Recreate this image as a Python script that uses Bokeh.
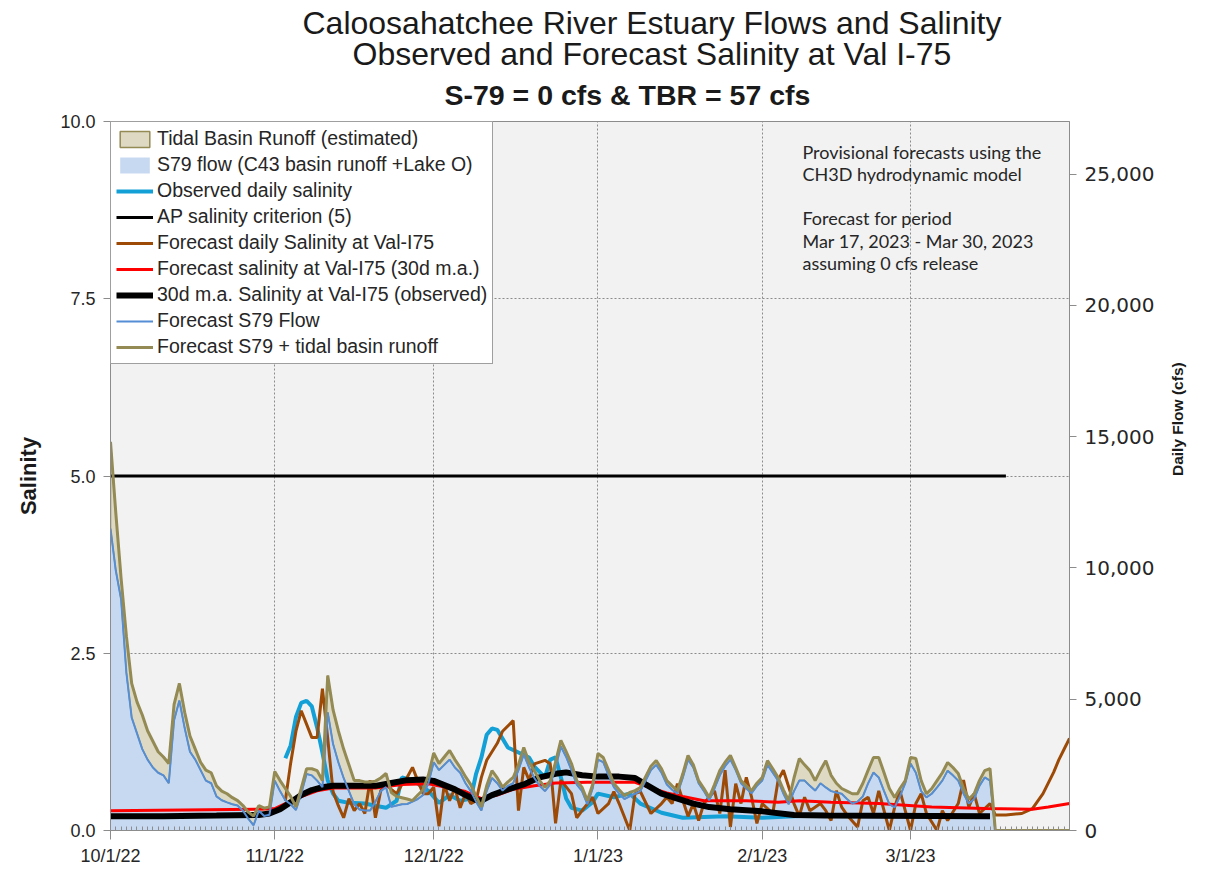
import math
from datetime import datetime, timedelta
import pandas as pd
from bokeh.plotting import figure
from bokeh.models import (Range1d, LinearAxis, FixedTicker, NumeralTickFormatter,
                          CustomJSTickFormatter, Label, Legend, LegendItem, Title)
from bokeh.embed import file_html
from bokeh.resources import INLINE

START = datetime(2022, 10, 1)

# ---------------- data ----------------
# flows (cfs), daily from 10/1/22; after 3/17/23 the forecast flow is 0
s79_cfs = [11500, 9900, 8800, 6000, 4300, 3700, 3100, 2700, 2400, 2200,
           2100, 1800, 4200, 4950, 3900, 3000, 2700, 2300, 1900, 1800,
           1300, 1150, 1070, 1000, 950, 750, 450, 200, 750, 550,
           600, 1900, 1500, 1150, 1000, 780, 1400, 2150, 2100, 1900,
           1650, 4500, 3300, 2600, 2000, 1500, 1000, 800, 760, 760,
           1100, 1500, 1650, 900, 950, 1000, 1010, 1100, 1200, 1350,
           1800, 2600, 2300, 2500, 2700, 2400, 2200, 1800, 1500, 1100,
           760, 1500, 2000, 1800, 1520, 1700, 1800, 2300, 2900, 2400,
           2000, 1700, 1500, 1750, 2400, 3200, 2800, 2300, 1750, 1500,
           1000, 1600, 2700, 2600, 2100, 1650, 1400, 1200, 1300, 1400,
           1500, 1900, 2300, 2500, 2200, 1750, 1550, 1400, 2000, 2700,
           2400, 1800, 1500, 1150, 1600, 2100, 2450, 2700, 2300, 1800,
           1600, 1420, 1700, 1900, 2500, 2200, 1900, 1400, 1000, 1500,
           1900, 1900, 1700, 1520, 1800, 1640, 1500, 1450, 1400, 1200,
           1030, 1100, 1300, 1800, 2210, 2020, 1500, 1000, 880, 1300,
           1800, 2550, 2200, 1500, 1260, 1400, 1640, 1900, 2280, 2100,
           1900, 1400, 1030, 1200, 1700, 2020, 1900, 0, 0]
s79_tbr_cfs = [14800, 12100, 9600, 7400, 5600, 4900, 4400, 3800, 3400, 3000,
               2800, 2550, 4800, 5600, 4500, 3600, 3100, 2600, 2300, 2200,
               1700, 1500, 1400, 1250, 1140, 950, 700, 550, 950, 850,
               900, 2250, 1900, 1600, 1300, 900, 1600, 2350, 2350, 2280,
               1900, 5900, 4600, 3800, 3100, 2500, 1900, 1900, 1850, 1850,
               1880, 2000, 2170, 1450, 1300, 1250, 1200, 1140, 1350, 1550,
               2100, 2950, 2550, 2800, 3050, 2700, 2400, 2050, 1750, 1300,
               900, 1700, 2280, 2000, 1650, 1850, 2020, 2500, 3160, 2600,
               2280, 1900, 1640, 1900, 2600, 3430, 3000, 2550, 1900, 1640,
               1140, 1750, 2930, 2780, 2300, 1790, 1550, 1330, 1450, 1520,
               1640, 2050, 2450, 2660, 2350, 1900, 1700, 1520, 2150, 2860,
               2500, 1900, 1600, 1260, 1750, 2280, 2600, 2860, 2400, 1900,
               1700, 1520, 1800, 2020, 2660, 2350, 2020, 1550, 1140, 2000,
               2740, 2500, 2280, 1900, 2300, 2660, 2100, 1800, 1600, 1500,
               1400, 1400, 1800, 2300, 2780, 2780, 2200, 1600, 1260, 1600,
               1900, 2780, 2740, 1900, 1400, 1600, 1900, 2200, 2590, 2400,
               2170, 1600, 1200, 1400, 1900, 2280, 2360, 0, 0]
flow_day = list(range(168)) + [181]

obs_sal_day = [33, 34, 35, 36, 37, 38, 39, 40, 41, 42, 43, 45, 48, 50, 52, 54, 55,
               57, 60, 62, 64, 66, 68, 69, 70, 71, 72, 73, 75, 77, 79, 80, 82, 83,
               84, 85, 86, 87, 89, 91, 92, 95, 98, 100, 104, 108, 116, 123, 129,
               135, 140]
obs_sal = [1.02, 1.2, 1.6, 1.8, 1.83, 1.75, 1.45, 1.1, 0.71, 0.52, 0.42, 0.39,
           0.38, 0.35, 0.32, 0.42, 0.75, 0.71, 0.56, 0.39, 0.5, 0.42, 0.45, 0.8,
           1.03, 1.35, 1.44, 1.42, 1.17, 1.1, 1.03, 0.9, 0.75, 1.0, 1.03, 0.75,
           0.45, 0.32, 0.28, 0.4, 0.52, 0.47, 0.52, 0.38, 0.25, 0.18, 0.2, 0.18,
           0.2, 0.22, 0.22]

fc_sal_day = [33, 34, 35, 36, 37, 38, 39, 40, 41, 42, 43, 44, 45, 46, 47, 48, 49,
              50, 51, 52, 53, 54, 55, 56, 57, 58, 59, 60, 61, 62, 63, 64, 65, 66,
              67, 68, 69, 70, 71, 73, 74, 76, 77, 78, 79, 80, 82, 83, 84, 85, 87,
              88, 89, 91, 92, 94, 95, 96, 98, 99, 100, 102, 104, 105, 106, 107,
              109, 110, 111, 112, 114, 115, 116, 117, 118, 119, 120, 121, 122, 123,
              125, 126, 127, 129, 130, 131, 132, 134, 135, 136, 137, 138, 139, 141,
              142, 143, 144, 145, 147, 148, 149, 151, 152, 153, 154, 156, 157, 158,
              160, 161, 162, 163, 164, 166, 167, 169, 172, 174, 176, 178, 179, 180,
              181]
fc_sal = [0.42, 0.95, 1.4, 1.69, 1.5, 1.31, 1.31, 2.0, 1.3, 0.55, 0.35, 0.18,
          0.45, 0.28, 0.38, 0.24, 0.71, 0.18, 0.56, 0.65, 0.58, 0.52, 0.65, 0.75,
          0.89, 0.7, 0.52, 0.52, 0.61, 0.06, 0.65, 0.42, 0.6, 0.32, 0.52, 0.38,
          0.42, 0.75, 0.99, 1.23, 1.4, 1.55, 0.28, 0.89, 0.71, 0.94, 0.99, 0.94,
          0.1, 0.71, 0.52, 0.18, 0.28, 0.47, 0.24, 0.38, 0.55, 0.38, 0.0, 0.52,
          0.55, 0.24, 0.38, 0.47, 0.38, 0.66, 0.2, 0.38, 0.14, 0.38, 0.56, 0.24,
          0.85, 0.05, 0.66, 0.38, 0.75, 0.47, 0.1, 0.38, 0.24, 0.71, 0.85, 0.38,
          0.2, 0.47, 0.28, 0.38, 0.28, 0.14, 0.56, 0.33, 0.22, 0.05, 0.42, 0.47,
          0.24, 0.56, 0.0, 0.33, 0.56, 0.0, 0.38, 0.52, 0.24, 0.0, 0.28, 0.14,
          0.38, 0.71, 0.33, 0.52, 0.24, 0.38, 0.22, 0.22, 0.24, 0.31, 0.52, 0.82,
          1.0, 1.15, 1.3]

fc_ma_day = [0, 28, 31, 33, 36, 39, 42, 50, 55, 60, 64, 67, 70, 73, 76, 80, 84,
             90, 99, 102, 105, 108, 112, 120, 126, 130, 136, 145, 155, 165, 174,
             177, 181]
fc_ma = [0.28, 0.3, 0.31, 0.38, 0.48, 0.56, 0.6, 0.6, 0.65, 0.66, 0.6, 0.55,
         0.45, 0.5, 0.58, 0.63, 0.67, 0.68, 0.68, 0.6, 0.53, 0.48, 0.42, 0.42,
         0.4, 0.42, 0.4, 0.38, 0.33, 0.31, 0.3, 0.33, 0.38]

obs_ma_day = [0, 10, 20, 28, 30, 32, 34, 36, 38, 40, 42, 46, 50, 53, 56, 59, 61,
              63, 65, 67, 69, 70, 72, 75, 78, 81, 84, 86, 89, 92, 96, 99, 101,
              104, 107, 110, 113, 117, 123, 129, 135, 166]
obs_ma = [0.2, 0.2, 0.21, 0.22, 0.24, 0.3, 0.4, 0.5, 0.57, 0.61, 0.63, 0.63,
          0.63, 0.67, 0.71, 0.72, 0.7, 0.64, 0.58, 0.5, 0.43, 0.42, 0.5, 0.58,
          0.65, 0.75, 0.8, 0.82, 0.78, 0.76, 0.76, 0.74, 0.65, 0.52, 0.45, 0.38,
          0.33, 0.3, 0.27, 0.22, 0.21, 0.2]

criterion_day = [0, 169]
criterion_sal = [5, 5]

month_ticks = ["2022-10-01", "2022-11-01", "2022-12-01", "2023-01-01",
               "2023-02-01", "2023-03-01"]
sal_ticks = [0, 2.5, 5, 7.5, 10]
flow_ticks = [0, 5000, 10000, 15000, 20000, 25000]


def dates(days):
    return [START + timedelta(days=d) for d in days]


def ms(ts):
    return pd.Timestamp(ts).value // 10**6


W, H = 1205, 875
FL, FT, FW, FH = 110, 121, 959, 709

p = figure(width=W, height=H, x_axis_type="datetime", output_backend="svg",
           toolbar_location=None,
           x_range=Range1d(START, START + timedelta(days=181)),
           y_range=Range1d(0, 10),
           min_border_left=FL, min_border_right=W - FL - FW,
           min_border_top=FT, min_border_bottom=H - FT - FH)
p.extra_y_ranges = {"flow": Range1d(0, 27000)}
p.background_fill_color = "#f2f2f2"
p.border_fill_color = "white"
p.outline_line_color = "#8c8c8c"
p.outline_line_width = 1

# grid
p.xgrid.grid_line_color = "#8c8c8c"
p.xgrid.grid_line_dash = "2 2"
p.ygrid.grid_line_color = "#8c8c8c"
p.ygrid.grid_line_dash = "2 2"

TICK_FONT = "Liberation Sans"

# x axis
xa = p.xaxis[0]
xa.ticker = FixedTicker(ticks=[ms(t) for t in month_ticks],
                        minor_ticks=[ms(START + timedelta(days=d)) for d in range(182)])
xa.formatter = CustomJSTickFormatter(code="""
const d = new Date(tick);
return (d.getUTCMonth()+1) + "/" + d.getUTCDate() + "/" + String(d.getUTCFullYear()).slice(2);
""")
xa.major_tick_in = 0
xa.major_tick_out = 9
xa.minor_tick_in = 4
xa.minor_tick_out = 0
xa.axis_line_color = "#8c8c8c"
xa.major_tick_line_color = "#8c8c8c"
xa.minor_tick_line_color = "#8c8c8c"
xa.major_label_text_font = TICK_FONT
xa.major_label_text_font_size = "18px"
xa.major_label_text_color = "#262626"
xa.major_label_standoff = 6

ya = p.yaxis[0]
ya.ticker = FixedTicker(ticks=sal_ticks)
ya.formatter = NumeralTickFormatter(format="0.0")
ya.major_tick_in = 0
ya.major_tick_out = 7
ya.minor_tick_line_color = None
ya.axis_line_color = "#8c8c8c"
ya.major_tick_line_color = "#8c8c8c"
ya.major_label_text_font = TICK_FONT
ya.major_label_text_font_size = "18px"
ya.major_label_text_color = "#262626"
ya.major_label_standoff = 8
ya.axis_label = "Salinity"
ya.axis_label_text_font = "Liberation Sans"
ya.axis_label_text_font_size = "22px"
ya.axis_label_text_font_style = "bold"
ya.axis_label_text_color = "#1a1a1a"
ya.axis_label_standoff = 16

ra = LinearAxis(y_range_name="flow", ticker=FixedTicker(ticks=flow_ticks),
                formatter=NumeralTickFormatter(format="0,0"))
ra.major_tick_in = 0
ra.major_tick_out = 7
ra.minor_tick_line_color = None
ra.axis_line_color = "#8c8c8c"
ra.major_tick_line_color = "#8c8c8c"
ra.major_label_text_font = "DejaVu Sans"
ra.major_label_text_font_size = "20px"
ra.major_label_text_color = "#262626"
ra.major_label_standoff = 8
ra.axis_label = "Daily Flow (cfs)"
ra.axis_label_text_font = "Liberation Sans"
ra.axis_label_text_font_size = "15.5px"
ra.axis_label_text_font_style = "bold"
ra.axis_label_text_color = "#1a1a1a"
ra.axis_label_standoff = 20
if "axis_label_orientation" in ra.properties():
    ra.axis_label_orientation = math.pi / 2  # read bottom-to-top like the reference
p.add_layout(ra, "right")

# ---------------- areas ----------------
fd = dates(flow_day)
blue_area = p.varea(x=fd, y1=[0] * len(fd), y2=s79_cfs, y_range_name="flow",
                    fill_color="#c6d9f1")
tan_area = p.patch(x=fd + fd[::-1], y=s79_tbr_cfs + s79_cfs[::-1], y_range_name="flow",
                   fill_color="#ddd9c3", line_color="#948a54", line_width=1.5)

# ---------------- lines ----------------
obs_line = p.line(dates(obs_sal_day), obs_sal, line_color="#12a0d7", line_width=4)
crit_line = p.line(dates(criterion_day), criterion_sal, line_color="black", line_width=3)
fc_line = p.line(dates(fc_sal_day), fc_sal, line_color="#9c4a06", line_width=3)
fcma_line = p.line(dates(fc_ma_day), fc_ma, line_color="#ff0000", line_width=3)
obsma_line = p.line(dates(obs_ma_day), obs_ma, line_color="black", line_width=6)
s79_line = p.line(fd, s79_cfs, y_range_name="flow", line_color="#558ed5", line_width=2)
tot_line = p.line(fd, s79_tbr_cfs, y_range_name="flow", line_color="#948a54", line_width=3)

legend = Legend(items=[
    LegendItem(label="Tidal Basin Runoff (estimated)", renderers=[tan_area]),
    LegendItem(label="S79 flow (C43 basin runoff +Lake O)", renderers=[blue_area]),
    LegendItem(label="Observed daily salinity", renderers=[obs_line]),
    LegendItem(label="AP salinity criterion (5)", renderers=[crit_line]),
    LegendItem(label="Forecast daily Salinity at Val-I75", renderers=[fc_line]),
    LegendItem(label="Forecast salinity at Val-I75 (30d m.a.)", renderers=[fcma_line]),
    LegendItem(label="30d m.a. Salinity at Val-I75 (observed)", renderers=[obsma_line]),
    LegendItem(label="Forecast S79 Flow", renderers=[s79_line]),
    LegendItem(label="Forecast S79 + tidal basin runoff", renderers=[tot_line]),
], location="top_left")
legend.margin = 0
legend.padding = 5
legend.spacing = 3
legend.label_height = 20
legend.glyph_height = 20
legend.glyph_width = 37
legend.label_standoff = 4
legend.border_line_color = "#404040"
legend.border_line_width = 1
legend.background_fill_color = "white"
legend.background_fill_alpha = 1
legend.label_text_font = "Liberation Sans"
legend.label_text_font_size = "19.5px"
legend.label_text_color = "#262626"
p.add_layout(legend)

# ---------------- titles (last added sits on top) ----------------
p.title.text = ""
for text, left, size, bold, standoff in [
        ("S-79 = 0 cfs & TBR =  57 cfs", 444, "28.5px", True, 22),
        ("Observed and Forecast Salinity at Val I-75", 352, "32px", False, -12),
        ("Caloosahatchee River Estuary Flows and Salinity", 302, "32px", False, -3)]:
    p.add_layout(Title(text=text, align="left", offset=left - FL, standoff=standoff,
                       text_font="Liberation Sans", text_font_size=size,
                       text_font_style="bold" if bold else "normal",
                       text_line_height=1.0, text_color="#1a1a1a"), "above")

note = Label(x=START + timedelta(days=130.6), y=9.73,
             text="Provisional forecasts using the\nCH3D hydrodynamic model\n\n"
                  "Forecast for period\nMar 17, 2023 - Mar 30, 2023\nassuming 0 cfs release",
             text_font="Lato", text_font_size="18px", text_color="#262626",
             text_align="left", text_baseline="top", text_line_height=1.01)
p.add_layout(note)

open("out.html", "w").write(file_html(p, INLINE))
